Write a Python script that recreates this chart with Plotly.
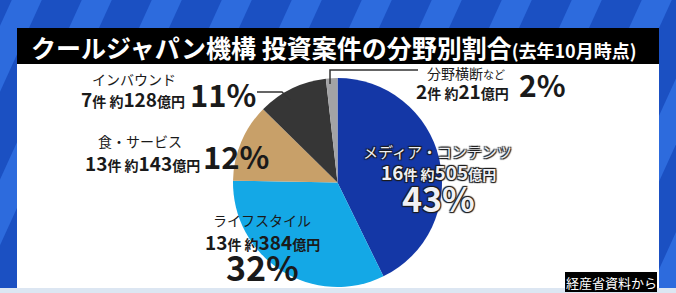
import plotly.graph_objects as go

# ---- data ----
categories = ["メディア・コンテンツ", "ライフスタイル", "食・サービス", "インバウンド", "分野横断など"]
counts = [16, 13, 13, 7, 2]            # 件
amounts = [505, 384, 143, 128, 21]     # 億円
percents = [43, 32, 12, 11, 2]         # %
colors = ["#1437A6", "#14A8E6", "#C8A069", "#363636", "#A3A3A5"]

title_main = "クールジャパン機構 投資案件の分野別割合"
title_sub = "(去年10月時点)"
source = "経産省資料から"

W, H = 676, 293
def px(x): return x / W
def py(y): return 1 - y / H

FONT = "Noto Sans CJK JP"

fig = go.Figure()
fig.add_trace(go.Pie(
    values=amounts, labels=categories, sort=False, direction="clockwise", rotation=0,
    marker=dict(colors=colors, line=dict(width=0)),
    textinfo="none", hoverinfo="label+value+percent", showlegend=False,
    domain=dict(x=[px(233), px(442)], y=[py(287), py(78)]),
))

shapes = []
# background stripes
shapes.append(dict(type="rect", xref="paper", yref="paper", x0=0, x1=1, y0=0, y1=1,
                   fillcolor="#1B50C2", line=dict(width=0), layer="below"))
for k in range(-3, 14):
    x0 = k * 70
    path = f"M {px(x0)},{py(H+40)} L {px(x0+30)},{py(H+40)} L {px(x0+30+170)},{py(-40)} L {px(x0+170)},{py(-40)} Z"
    shapes.append(dict(type="path", xref="paper", yref="paper", path=path,
                       fillcolor="#2D6BDD", line=dict(width=0), layer="below"))
# bottom light strip
shapes.append(dict(type="rect", xref="paper", yref="paper", x0=0, x1=1, y0=py(293), y1=py(288),
                   fillcolor="#DCE6F2", line=dict(width=0), layer="below"))
# white panel
shapes.append(dict(type="rect", xref="paper", yref="paper", x0=px(17), x1=px(659), y0=py(288), y1=py(63),
                   fillcolor="#FFFFFF", line=dict(width=0), layer="below"))
# title bar
shapes.append(dict(type="rect", xref="paper", yref="paper", x0=px(17), x1=px(659), y0=py(64), y1=py(28),
                   fillcolor="#000000", line=dict(width=0), layer="below"))
# source box
shapes.append(dict(type="rect", xref="paper", yref="paper", x0=px(565), x1=px(657), y0=py(292), y1=py(272),
                   fillcolor="#000000", line=dict(width=0), layer="above"))
# leader lines
shapes.append(dict(type="path", xref="paper", yref="paper",
                   path=f"M {px(257)},{py(92)} L {px(282)},{py(92)} L {px(290)},{py(100)}",
                   line=dict(color="#333333", width=1.5)))
shapes.append(dict(type="path", xref="paper", yref="paper",
                   path=f"M {px(418)},{py(70)} L {px(330)},{py(70)} L {px(330)},{py(84)}",
                   line=dict(color="#333333", width=1.5)))

ann = []
def add(text, x, y, size, color="#1a1a1a", xanchor="center", bold=True, shadow=None):
    f = dict(family=FONT, size=size, color=color, weight=700 if bold else 400)
    if shadow:
        f["shadow"] = shadow
    ann.append(dict(text=text, x=px(x), y=py(y), xref="paper", yref="paper", showarrow=False,
                    xanchor=xanchor, yanchor="middle", font=f))

def detail(i):
    return (f"{counts[i]}<span style='font-size:14px'>件 約</span>{amounts[i]}"
            f"<span style='font-size:14px'>億円</span>")

# title
add(f"{title_main}<span style='font-size:18px'>{title_sub}</span>", 29, 47, 25, color="#FFFFFF", xanchor="left")

# インバウンド
add(categories[3], 134, 79, 14, bold=False)
add(detail(3), 133, 98, 19)
add(f"{percents[3]}%", 223, 93, 31)
# 食・サービス
add(categories[2], 140, 141, 14, bold=False)
add(detail(2), 142, 162, 19)
add(f"{percents[2]}%", 236, 155, 31)
# ライフスタイル
add(categories[1], 262, 220, 14, bold=False)
add(detail(1), 262, 241, 19)
add(f"{percents[1]}%", 262, 266, 34)
# メディア・コンテンツ
outline = "-1px -1px 1px #1a1a1a, 1px -1px 1px #1a1a1a, -1px 1px 1px #1a1a1a, 1px 1px 1px #1a1a1a"
add(categories[0], 437, 152, 15, color="#F0F0F4", bold=False, shadow=outline)
add(detail(0), 438, 171, 19, color="#F0F0F4", shadow=outline)
add(f"{percents[0]}%", 438, 197, 34, color="#F0F0F4", shadow=outline)
# 分野横断など
add(f"分野横断<span style='font-size:11px'>など</span>", 425, 73, 14, xanchor="left", bold=False)
add(detail(4), 462, 90, 19)
add(f"{percents[4]}%", 542, 84, 30)
# source
add(source, 611, 282, 13, color="#FFFFFF", bold=False)

fig.update_layout(width=W, height=H, margin=dict(l=0, r=0, t=0, b=0),
                  paper_bgcolor="#1B50C2", plot_bgcolor="#1B50C2",
                  shapes=shapes, annotations=ann)
fig.write_html("out.html")
